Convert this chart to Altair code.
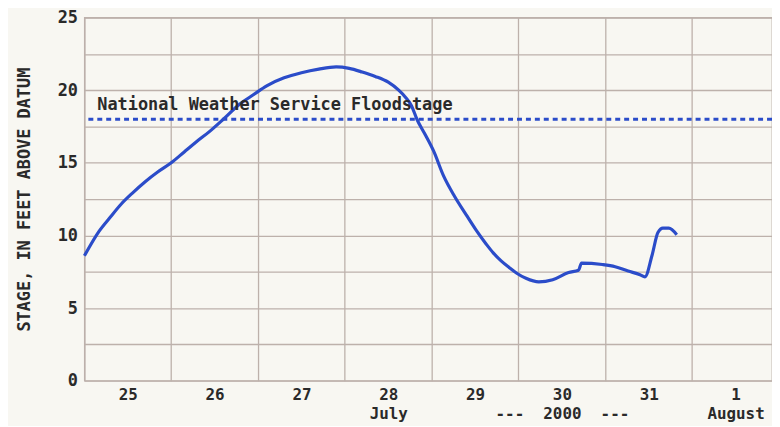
import altair as alt
import pandas as pd

# Stage hydrograph (day of month as decimal; 25.0 = start of July 25, 32 = Aug 1)
days = [25.0, 25.17, 25.29, 25.43, 25.55, 25.70, 25.84, 26.0, 26.15, 26.28, 26.45,
        26.6, 26.78, 26.95, 27.1, 27.3, 27.5, 27.7, 27.9, 28.05, 28.2, 28.35, 28.5,
        28.62, 28.7, 28.77, 28.83, 28.92, 29.023, 29.137, 29.263, 29.40, 29.514,
        29.629, 29.709, 29.8, 29.891, 29.98, 30.086, 30.234, 30.394, 30.577, 30.691,
        30.726, 30.966, 31.114, 31.263, 31.4, 31.457, 31.537, 31.606, 31.663, 31.731,
        31.823]
stage = [8.6, 10.3, 11.2, 12.2, 12.9, 13.7, 14.35, 15.0, 15.75, 16.4, 17.2,
         18.0, 19.0, 19.7, 20.3, 20.85, 21.2, 21.45, 21.6, 21.5, 21.25, 20.95, 20.55,
         20.0, 19.5, 18.9, 18.0, 17.0, 15.8, 14.1, 12.7, 11.4, 10.35,
         9.4, 8.8, 8.25, 7.8, 7.4, 7.05, 6.8, 6.95, 7.45, 7.6,
         8.1, 8.0, 7.85, 7.55, 7.3, 7.15, 8.6, 10.2, 10.5, 10.5,
         10.05]

flood_stage = [18.0]
flood_label = ["National Weather Service Floodstage"]

x_ticks = [25, 26, 27, 28, 29, 30, 31, 32]
y_ticks = [0, 2.5, 5, 7.5, 10, 12.5, 15, 17.5, 20, 22.5, 25]

BLUE = "#2b4cc9"
GRID = "#bdb1ab"
TEXT = "#2a2a2a"
FONT = "DejaVu Sans Mono"
NB = "\u00a0"

df = pd.DataFrame({"day": days, "stage": stage})
fdf = pd.DataFrame({"stage": flood_stage, "label": flood_label})

label_expr = (
    "datum.value == 28 ? ['28', 'July'] : "
    f"datum.value == 30 ? ['30', '---{NB}{NB}2000{NB}{NB}---'] : "
    "datum.value == 32 ? ['1', 'August'] : "
    "datum.value == 31 ? '31' : datum.value == 29 ? '29' : "
    "datum.value == 27 ? '27' : datum.value == 26 ? '26' : '25'"
)

x_enc = alt.X(
    "day:Q",
    scale=alt.Scale(domain=[25, 32.92], nice=False, zero=False),
    axis=alt.Axis(
        values=x_ticks, title=None, grid=True, gridColor=GRID, gridWidth=1.3,
        ticks=False, domain=False, labelOffset=43.75, labelExpr=label_expr,
        labelFont=FONT, labelFontSize=16, labelFontWeight="bold", labelColor=TEXT,
        labelPadding=6, labelLineHeight=19, labelOverlap=False, labelFlush=False,
        labelBound=False,
    ),
)

y_enc = alt.Y(
    "stage:Q",
    scale=alt.Scale(domain=[0, 25], nice=False),
    axis=alt.Axis(
        values=y_ticks, grid=True, gridColor=GRID, gridWidth=1.3, ticks=False,
        domain=False,
        labelExpr="datum.value % 5 == 0 ? format(datum.value, 'd') : ''",
        labelFont=FONT, labelFontSize=17, labelFontWeight="bold", labelColor=TEXT,
        labelPadding=7,
        title="STAGE, IN FEET ABOVE DATUM", titleFont=FONT, titleFontSize=17,
        titleFontWeight="bold", titleColor=TEXT, titlePadding=24,
    ),
)

line = alt.Chart(df).mark_line(color=BLUE, strokeWidth=3.2, interpolate="monotone").encode(
    x=x_enc, y=y_enc
)

flood_rule = alt.Chart(fdf).mark_rule(color=BLUE, strokeWidth=3, strokeDash=[5, 4]).encode(
    y=y_enc
)

flood_text = alt.Chart(fdf).mark_text(
    align="left", baseline="bottom", dy=-5, font=FONT, fontSize=17,
    fontWeight="bold", color=TEXT,
).encode(x=alt.value(13), y=y_enc, text="label:N")

chart = alt.layer(line, flood_rule, flood_text).properties(
    width=693, height=366,
    padding={"left": 77, "top": 8, "right": 0, "bottom": 44},
    autosize=alt.AutoSizeParams(type="none"),
    background="#f8f7f2",
).configure_view(stroke=GRID, strokeWidth=1.3)

chart.save("out.html", embed_options={"renderer": "svg", "actions": False})
